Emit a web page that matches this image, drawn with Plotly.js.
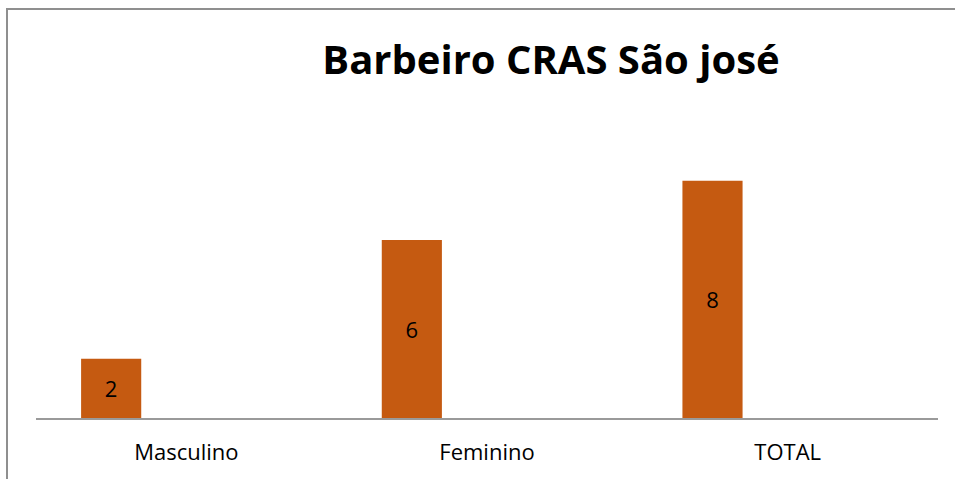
<!DOCTYPE html>
<html>
<head>
<meta charset="utf-8">
<script src="https://cdn.plot.ly/plotly-3.0.1.min.js"></script>
<style>
  html, body { margin: 0; padding: 0; background: #fff; }
  #frame { position: absolute; left: 6px; top: 8px; width: 949px; height: 471px;
           border-left: 2px solid #8f8f8f; border-top: 2px solid #8f8f8f; box-sizing: border-box; }
  #chart { position: absolute; left: 0; top: 0; width: 955px; height: 479px; }
</style>
</head>
<body>
<div id="frame"></div>
<div id="chart"></div>
<script>
var categories = ['Masculino', 'Feminino', 'TOTAL'];
var values = [2, 6, 8];
var chartTitle = 'Barbeiro CRAS São josé';

var trace = {
  x: categories,
  y: values,
  type: 'bar',
  text: values.map(String),
  textposition: 'inside',
  insidetextanchor: 'middle',
  textfont: { color: '#000', size: 22, family: 'Open Sans, sans-serif' },
  marker: { color: '#C55A11' },
  width: 0.2,
  offset: -0.35,
  hoverinfo: 'x+y'
};

var layout = {
  width: 955,
  height: 479,
  margin: { l: 36, r: 17, t: 151, b: 61 },
  paper_bgcolor: 'rgba(0,0,0,0)',
  plot_bgcolor: 'rgba(0,0,0,0)',
  showlegend: false,
  font: { family: 'Open Sans, sans-serif', color: '#000' },
  title: {
    text: chartTitle,
    font: { size: 40, family: 'Open Sans, sans-serif', weight: 'bold', color: '#000' },
    xref: 'container', x: 551 / 955, xanchor: 'center',
    yref: 'container', y: 1 - 60 / 479, yanchor: 'middle'
  },
  xaxis: {
    showline: true, linecolor: '#9a9a9a', linewidth: 1.5,
    ticks: 'outside', ticklen: 14, tickcolor: 'rgba(0,0,0,0)',
    tickfont: { size: 22 },
    showgrid: false, zeroline: false
  },
  yaxis: {
    range: [0, 9], visible: false, showgrid: false, zeroline: false
  }
};

Plotly.newPlot('chart', [trace], layout, { displayModeBar: false, staticPlot: true });
</script>
</body>
</html>
